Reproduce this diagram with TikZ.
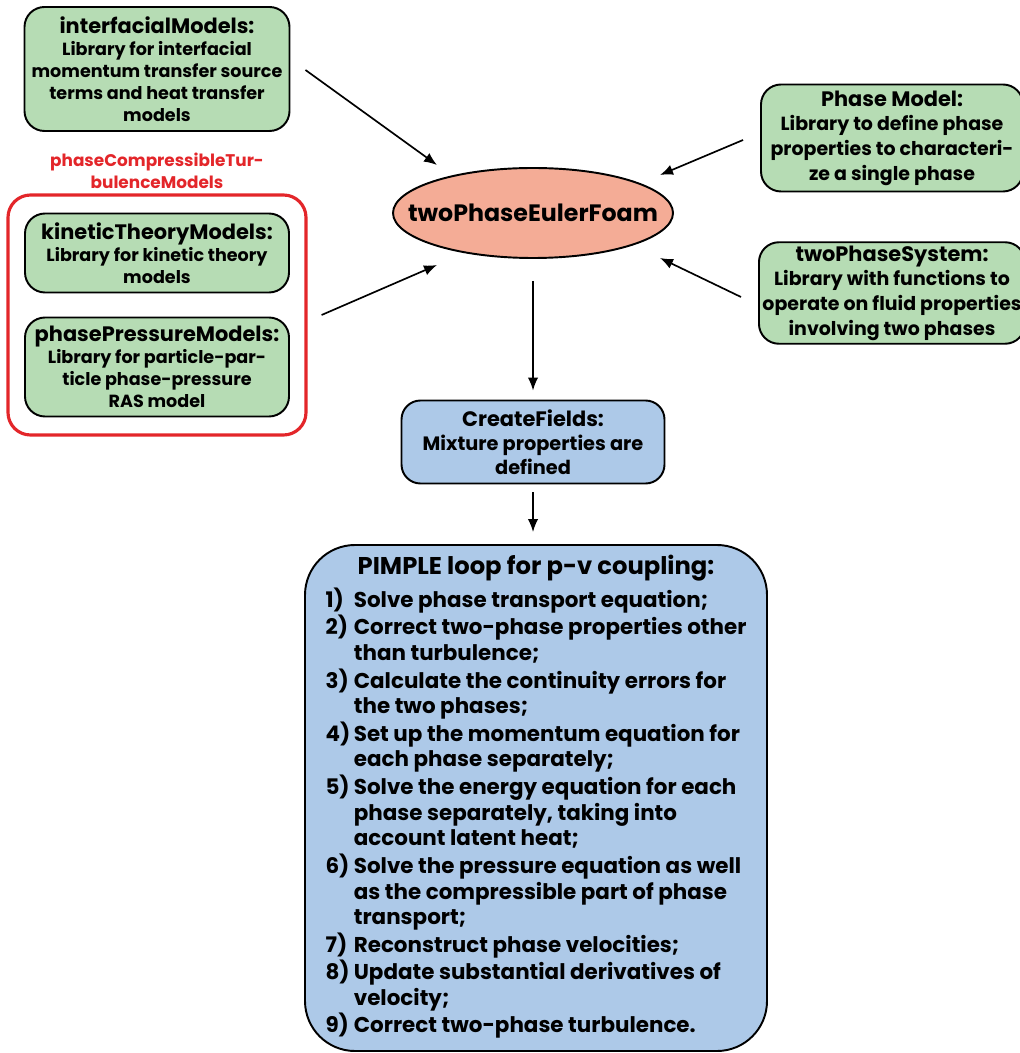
\documentclass[tikz,border=0pt]{standalone}
\usepackage{fontspec}
\setmainfont{Poppins}
\usetikzlibrary{shapes.geometric,arrows.meta,calc}
\definecolor{libgreen}{HTML}{B6DCB4}
\definecolor{solverred}{HTML}{F4AC96}
\definecolor{stepblue}{HTML}{ADC9E8}
\definecolor{turbred}{HTML}{E3262A}
\newcommand\libhead[1]{{\fontsize{11.9}{14}\selectfont #1}}
\begin{document}
\begin{tikzpicture}[x=0.02cm,y=-0.02cm,
    lib/.style={draw,line width=1.1pt,fill=libgreen,rounded corners=0.4cm,
      align=center,inner sep=2pt,font=\bfseries\fontsize{10}{12.5}\selectfont},
    libwide/.style={lib,font=\bfseries\fontsize{10.8}{14}\selectfont},
    stepbox/.style={draw,line width=1.1pt,fill=stepblue,align=center,inner sep=2pt},
    arr/.style={-{Latex[length=2.6mm,width=2.1mm]},line width=0.95pt}]
  \useasboundingbox (0,0) rectangle (1019,1053);
  % solver
  \node[ellipse,draw,line width=1.1pt,fill=solverred,minimum width=280*0.02cm,
    minimum height=90*0.02cm,font=\bfseries\fontsize{13.5}{16}\selectfont]
    (ell) at (533,213) {\makebox[0pt]{twoPhaseEulerFoam}};
  % libraries
  \node[lib,minimum width=265*0.02cm,minimum height=124*0.02cm] (inter) at (157,69)
    {\libhead{interfacialModels:}\\Library for interfacial\\momentum transfer source\\terms and heat transfer\\models};
  \node[text=turbred,align=center,font=\bfseries\fontsize{9.6}{12.5}\selectfont]
    (turblabel) at (157,171) {phaseCompressibleTur-\\bulenceModels};
  \node[draw=turbred,line width=1.8pt,rounded corners=0.45cm,minimum width=298*0.02cm,
    minimum height=240*0.02cm] (turb) at (157,315) {};
  \node[lib,minimum width=264*0.02cm,minimum height=79*0.02cm] (kin) at (157,253)
    {\libhead{kineticTheoryModels:}\\Library for kinetic theory\\models};
  \node[lib,minimum width=264*0.02cm,minimum height=99*0.02cm] (press) at (157,367)
    {\libhead{phasePressureModels:}\\Library for particle-par-\\ticle phase-pressure\\RAS model};
  \node[libwide,minimum width=262*0.02cm,minimum height=107*0.02cm] (pm) at (892,138)
    {\libhead{Phase Model:}\\Library to define phase\\properties to characteri-\\ze a single phase};
  \node[libwide,minimum width=262*0.02cm,minimum height=99*0.02cm] (tps) at (892,293)
    {\libhead{twoPhaseSystem:}\\Library with functions to\\operate on fluid properties\\involving two phases};
  % solution steps
  \node[stepbox,rounded corners=0.38cm,minimum width=263*0.02cm,minimum height=83*0.02cm,
    font=\bfseries\fontsize{11}{13.7}\selectfont] (cf) at (533,442)
    {\libhead{CreateFields:}\\Mixture properties are\\defined};
  \node[stepbox,rounded corners=1.0cm,minimum width=462*0.02cm,minimum height=506*0.02cm,
    font=\bfseries\fontsize{12.2}{14.7}\selectfont] (pimple) at (536,798)
    {\begin{tabular}{@{}l@{\,}l@{}}
      \multicolumn{2}{c}{\fontsize{13.8}{17}\selectfont PIMPLE loop for p-v coupling:}\\[3pt]
      1) & Solve phase transport equation;\\
      2) & Correct two-phase properties other\\
         & than turbulence;\\
      3) & Calculate the continuity errors for\\
         & the two phases;\\
      4) & Set up the momentum equation for\\
         & each phase separately;\\
      5) & Solve the energy equation for each\\
         & phase separately, taking into\\
         & account latent heat;\\
      6) & Solve the pressure equation as well\\
         & as the compressible part of phase\\
         & transport;\\
      7) & Reconstruct phase velocities;\\
      8) & Update substantial derivatives of\\
         & velocity;\\
      9) & Correct two-phase turbulence.
    \end{tabular}};
  % connectors
  \draw[arr] ($(inter.east)+(15,1)$) -- ($(ell.center)+(-96,-48)$);
  \draw[arr] ($(pm.west)+(-17,2)$) -- ($(ell.center)+(127,-38)$);
  \draw[arr] ($(tps.west)+(-17,4)$) -- ($(ell.center)+(127,45)$);
  \draw[arr] ($(turb.east)+(14,0)$) -- ($(ell.center)+(-96,52)$);
  \draw[arr] ($(ell.south)+(0,22)$) -- ($(cf.north)+(0,-9)$);
  \draw[arr] ($(cf.south)+(0,8)$) -- ($(pimple.north)+(-3,-12)$);
\end{tikzpicture}
\end{document}
